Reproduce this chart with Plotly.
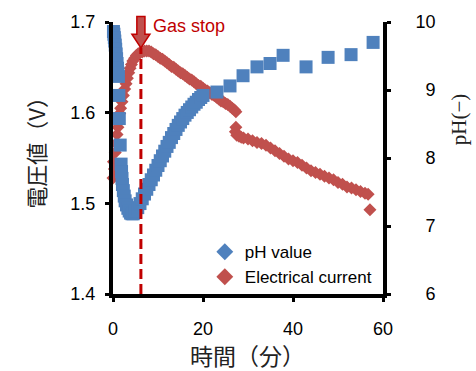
import plotly.graph_objects as go

# ---- data ----
time_current = [0.0, 0.1, 0.3, 0.5, 0.7, 0.9, 1.1, 1.3, 1.5, 1.7, 2.0, 2.3, 2.6, 2.9, 3.2, 3.5,
                3.8, 4.1, 4.4, 4.8, 5.2, 5.6, 6.0, 6.5, 7.0, 7.5,
                8.0, 8.5, 9.0, 9.5, 10.0, 10.5, 11.0, 11.5, 12.0, 12.5, 13.0, 13.5, 14.0, 14.5,
                15.0, 15.5, 16.0, 16.5, 17.0, 17.5, 18.0, 18.5, 19.0, 19.5, 20.0, 20.5, 21.0,
                21.5, 22.0, 22.5, 23.0, 23.5, 24.0, 24.5, 25.0, 25.5, 26.0, 26.5, 27.0, 27.3,
                27.3, 27.2, 27.5, 28.0, 28.5, 29.0, 30.0, 31.0, 32.0, 33.0, 34.0, 35.0, 36.0,
                37.0, 38.0, 39.0, 40.0, 41.0, 42.0, 43.0, 44.0, 45.0, 46.0, 47.0, 48.0, 49.0,
                50.0, 51.0, 52.0, 53.0, 54.0, 55.0, 56.0, 56.7, 57.1]
voltage = [1.528, 1.546, 1.538, 1.556, 1.566, 1.576, 1.584, 1.592, 1.599, 1.605, 1.612, 1.619,
           1.626, 1.632, 1.638, 1.644, 1.649, 1.653, 1.657, 1.660, 1.663, 1.665, 1.666, 1.667,
           1.668, 1.668,
           1.668, 1.667, 1.665, 1.664, 1.662, 1.660, 1.659, 1.657, 1.655, 1.653, 1.651, 1.650,
           1.648, 1.646, 1.644, 1.643, 1.641, 1.639, 1.637, 1.636, 1.634, 1.632, 1.630, 1.629,
           1.627, 1.625, 1.624, 1.622, 1.620, 1.619, 1.617, 1.615, 1.613, 1.612, 1.610, 1.609,
           1.607, 1.605, 1.603, 1.601,
           1.584, 1.579, 1.575, 1.574, 1.573, 1.572, 1.571, 1.569, 1.567, 1.566, 1.564, 1.561,
           1.558, 1.555, 1.552, 1.549, 1.547, 1.545, 1.542, 1.539, 1.536, 1.534, 1.532, 1.530,
           1.528, 1.526, 1.523, 1.521, 1.518, 1.517, 1.515, 1.513, 1.511, 1.510, 1.493]

time_ph = [0.1, 0.2, 0.3, 0.4, 0.5, 0.6, 0.7, 0.8, 0.9, 1.0, 1.1, 1.2,
           1.3, 1.4, 1.6,
           1.8, 1.9, 2.0, 2.1, 2.3, 2.5, 2.7, 3.0, 3.3, 3.6, 3.9, 4.2, 4.5, 4.8,
           5.0, 5.5, 6.0, 6.5, 7.0, 7.5, 8.0, 8.5, 9.0, 9.5, 10.0, 10.5, 11.0, 11.5, 12.0,
           12.5, 13.0, 13.5, 14.0, 14.5, 15.0, 15.5, 16.0, 16.5, 17.0, 17.5, 18.0, 18.5,
           19.0, 19.5, 20.0,
           23.1, 26.0, 28.9, 32.0, 34.9, 37.8, 42.9, 47.8, 52.9, 57.8]
ph = [9.86, 9.82, 9.77, 9.72, 9.66, 9.60, 9.53, 9.46, 9.39, 9.32, 9.25, 9.20,
      8.92, 8.58, 8.19,
      7.91, 7.80, 7.70, 7.61, 7.52, 7.44, 7.37, 7.31, 7.26, 7.22, 7.19, 7.18, 7.18, 7.20,
      7.22, 7.27, 7.33, 7.40, 7.47, 7.54, 7.61, 7.68, 7.75, 7.82, 7.89, 7.96, 8.03, 8.10,
      8.17, 8.23, 8.30, 8.36, 8.42, 8.48, 8.53, 8.58, 8.63, 8.67, 8.71, 8.75, 8.79, 8.82,
      8.86, 8.89, 8.92,
      8.97, 9.06, 9.21, 9.34, 9.39, 9.51, 9.34, 9.48, 9.52, 9.70]

gas_stop_time = 6.2
x_ticks = [0, 20, 40, 60]
y_ticks = [1.4, 1.5, 1.6, 1.7]
y_ticktext = ["1.4", "1.5", "1.6", "1.7"]
y2_ticks = [6, 7, 8, 9, 10]
y2_ticktext = ["\u20076", "\u20077", "\u20078", "\u20079", "10"]

BLUE = "#4F81BD"
RED = "#C0504D"
DARKRED = "#C00000"
SANS = "Arial, Liberation Sans, sans-serif"
CJK = "Noto Sans CJK JP, sans-serif"

fig = go.Figure()
fig.add_trace(go.Scatter(x=time_current, y=voltage, mode="markers", yaxis="y",
                         marker=dict(symbol="diamond", size=10, color=RED, line=dict(width=0)),
                         showlegend=False, cliponaxis=False, name="Electrical current"))
fig.add_trace(go.Scatter(x=time_ph, y=ph, mode="markers", yaxis="y2",
                         marker=dict(symbol="square", size=13, color=BLUE, line=dict(width=0)),
                         showlegend=False, cliponaxis=False, name="pH value"))
# legend entries (diamond symbols as in the reference)
fig.add_trace(go.Scatter(x=[None], y=[None], mode="markers", name="pH value",
                         marker=dict(symbol="diamond", size=13, color=BLUE)))
fig.add_trace(go.Scatter(x=[None], y=[None], mode="markers", name="Electrical current",
                         marker=dict(symbol="diamond", size=13, color=RED)))

axis_common = dict(showline=True, linewidth=4, linecolor="black", ticks="outside",
                   ticklen=4, tickwidth=3, tickcolor="black", showgrid=False, zeroline=False,
                   tickfont=dict(family=SANS, size=18, color="black"))

fig.update_layout(
    width=476, height=371,
    margin=dict(l=113, r=93, t=17, b=77),
    paper_bgcolor="white", plot_bgcolor="white",
    xaxis=dict(range=[0, 60], tickvals=x_ticks, ticklabelstandoff=11, **axis_common),
    yaxis=dict(range=[1.4, 1.7], tickvals=y_ticks, ticktext=y_ticktext,
               ticklabelstandoff=6, **axis_common),
    yaxis2=dict(range=[6, 10], tickvals=y2_ticks, ticktext=y2_ticktext, overlaying="y",
                side="right", ticklabelstandoff=21, **axis_common),
    legend=dict(x=0.34, y=0.22, xanchor="left", yanchor="top",
                font=dict(family=SANS, size=17, color="black"),
                bgcolor="rgba(0,0,0,0)", tracegroupgap=0, itemsizing="trace"),
    showlegend=True,
)

# dashed "gas stop" line and block arrow
fig.add_shape(type="line", xref="x", yref="paper", x0=gas_stop_time, x1=gas_stop_time,
              y0=0, y1=0.905, line=dict(color=DARKRED, width=3, dash="10px,5px"), layer="above")
hw_shaft, hw_head = 0.9, 2.0
path = (f"M {gas_stop_time - hw_shaft} 1.02 L {gas_stop_time + hw_shaft} 1.02 "
        f"L {gas_stop_time + hw_shaft} 0.955 L {gas_stop_time + hw_head} 0.955 "
        f"L {gas_stop_time} 0.905 L {gas_stop_time - hw_head} 0.955 "
        f"L {gas_stop_time - hw_shaft} 0.955 Z")
fig.add_shape(type="path", xref="x", yref="paper", path=path,
              fillcolor=RED, line=dict(color=DARKRED, width=1.5), layer="above")

fig.add_annotation(text="Gas stop", xref="paper", yref="paper", x=(151 - 113) / 270,
                   y=(294 - 21) / 277, xanchor="left", yanchor="middle", showarrow=False,
                   font=dict(family=SANS, size=18, color=DARKRED))

# axis titles
fig.add_annotation(text="時間（分）", xref="paper", yref="paper", x=(247 - 113) / 270,
                   y=(294 - 356) / 277, xanchor="center", yanchor="middle", showarrow=False,
                   font=dict(family=CJK, size=23, color="#222"))
fig.add_annotation(text="電圧値（V）", xref="paper", yref="paper", x=(35 - 113) / 270,
                   y=(294 - 145) / 277, xanchor="center", yanchor="middle", showarrow=False,
                   textangle=-90, font=dict(family=CJK, size=22, color="#222"))
fig.add_annotation(text="pH(−)", xref="paper", yref="paper", x=(459 - 113) / 270,
                   y=(294 - 116) / 277, xanchor="center", yanchor="middle", showarrow=False,
                   textangle=-90, font=dict(family="Liberation Serif, Times New Roman, serif",
                                            size=21, color="#222"))

fig.write_html("out.html")
